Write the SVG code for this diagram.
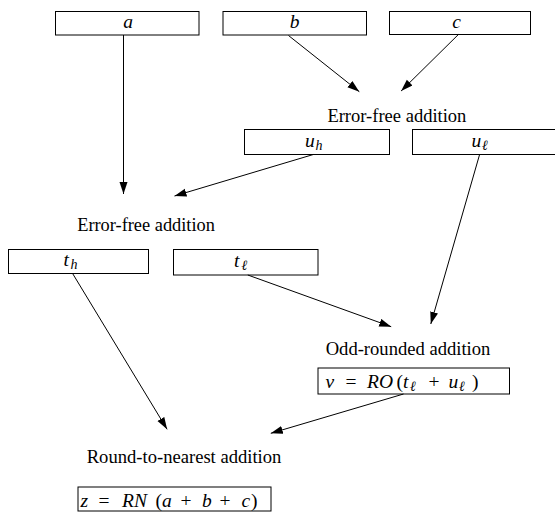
<svg xmlns="http://www.w3.org/2000/svg" width="555" height="518" viewBox="0 0 555 518">
<defs>
<marker id="ah" markerUnits="userSpaceOnUse" markerWidth="13" markerHeight="9" refX="12" refY="4" orient="auto">
<path d="M0,0 L12,4 L0,8 z" fill="#000"/>
</marker>
<style>
.box{fill:#fff;stroke:#000;stroke-width:1}
.lbl{font-size:18px;fill:#000}
.m{font-size:19.5px;fill:#000}
.sub{font-size:14px}
.con line{stroke:#000;stroke-width:1;marker-end:url(#ah)}
</style>
</defs>
<rect width="555" height="518" fill="#fff"/>
<g id="node-a"><rect class="box" x="55.5" y="11.5" width="143.5" height="23.5"/><text class="m" font-family="Liberation Serif, serif" font-style="italic" x="128.1" y="28" text-anchor="middle">a</text></g>
<g id="node-b"><rect class="box" x="223" y="11.5" width="143.5" height="23.5"/><text class="m" font-family="Liberation Serif, serif" font-style="italic" x="294.5" y="28" text-anchor="middle">b</text></g>
<g id="node-c"><rect class="box" x="389.5" y="11.5" width="141" height="23"/><text class="m" font-family="Liberation Serif, serif" font-style="italic" x="456.6" y="28" text-anchor="middle">c</text></g>
<g id="label-efa1"><text class="lbl" font-family="Liberation Serif, serif" x="327.4" y="121.7" textLength="139" lengthAdjust="spacingAndGlyphs">Error-free addition</text></g>
<g id="node-uh"><rect class="box" x="244.5" y="129.5" width="145" height="25"/><text class="m" font-family="Liberation Serif, serif" font-style="italic" y="146.7"><tspan x="305">u</tspan><tspan class="sub" x="315.5" dy="3">h</tspan></text></g>
<g id="node-ul"><rect class="box" x="412.5" y="129.5" width="150" height="25"/><text class="m" font-family="Liberation Serif, serif" font-style="italic" y="146.7"><tspan x="471.5">u</tspan><tspan class="sub" x="482" dy="3">ℓ</tspan></text></g>
<g id="label-efa2"><text class="lbl" font-family="Liberation Serif, serif" x="77.2" y="231" textLength="137.7" lengthAdjust="spacingAndGlyphs">Error-free addition</text></g>
<g id="node-th"><rect class="box" x="8.5" y="249.5" width="140" height="24"/><text class="m" font-family="Liberation Serif, serif" font-style="italic" y="266"><tspan x="63.5">t</tspan><tspan class="sub" x="70.5" dy="3">h</tspan></text></g>
<g id="node-tl"><rect class="box" x="173.5" y="249.5" width="144.5" height="25.5"/><text class="m" font-family="Liberation Serif, serif" font-style="italic" y="266.5"><tspan x="234">t</tspan><tspan class="sub" x="241.5" dy="3">ℓ</tspan></text></g>
<g id="label-oddr"><text class="lbl" font-family="Liberation Serif, serif" x="325.7" y="355" textLength="164.6" lengthAdjust="spacingAndGlyphs">Odd-rounded addition</text></g>
<g id="node-v"><rect class="box" x="318" y="368" width="191.5" height="26"/><text class="m" font-family="Liberation Serif, serif" y="388.3"><tspan x="325.5" font-style="italic">v</tspan><tspan x="345.5">=</tspan><tspan x="367" font-style="italic">RO</tspan><tspan x="396.5">(</tspan><tspan x="403" font-style="italic">t</tspan><tspan class="sub" x="410" dy="3" font-style="italic">ℓ</tspan><tspan x="428.5" dy="-3">+</tspan><tspan x="448.5" font-style="italic">u</tspan><tspan class="sub" x="459" dy="3" font-style="italic">ℓ</tspan><tspan x="472" dy="-3">)</tspan></text></g>
<g id="label-rn"><text class="lbl" font-family="Liberation Serif, serif" x="86.7" y="463.3" textLength="194.7" lengthAdjust="spacingAndGlyphs">Round-to-nearest addition</text></g>
<g id="node-z"><rect class="box" x="78" y="487" width="193" height="24"/><text class="m" font-family="Liberation Serif, serif" y="507.3"><tspan x="80.5" font-style="italic">z</tspan><tspan x="98.5">=</tspan><tspan x="122" font-style="italic">RN</tspan><tspan x="155.5">(</tspan><tspan x="162" font-style="italic">a</tspan><tspan x="180.5">+</tspan><tspan x="202" font-style="italic">b</tspan><tspan x="219.5">+</tspan><tspan x="241.5" font-style="italic">c</tspan><tspan x="251">)</tspan></text></g>
<g id="connectors" class="con">
<line x1="123.5" y1="35" x2="123.5" y2="194"/>
<line x1="288.5" y1="35.5" x2="359.3" y2="91.7"/>
<line x1="458.4" y1="34.5" x2="401.1" y2="91"/>
<line x1="313.3" y1="154.5" x2="174.5" y2="196"/>
<line x1="479.6" y1="154.5" x2="430.8" y2="324"/>
<line x1="72.6" y1="273.5" x2="167.1" y2="429.3"/>
<line x1="247.8" y1="275" x2="391.2" y2="326.7"/>
<line x1="403.5" y1="394" x2="270.8" y2="433.3"/>
</g>
</svg>
